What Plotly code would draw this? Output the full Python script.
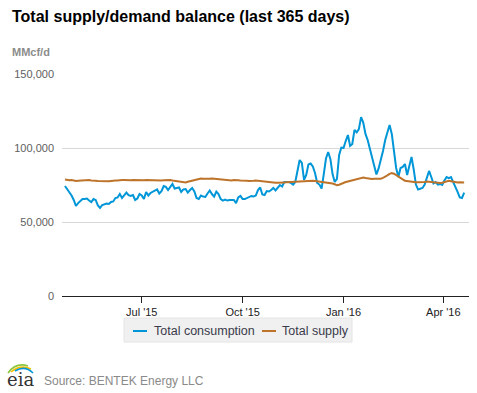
import pandas as pd
import plotly.graph_objects as go

# ---------------- data (MMcf/d, readings every 2 days) ----------------
start_date = "2015-04-22"
step = "2D"

consumption = [
    74300, 72300, 69600, 67900, 64900, 60800, 62800, 64200, 65500, 65500,
    65800, 64500, 63500, 65500, 64900, 61200, 59500, 61500, 62200, 62500,
    62200, 63500, 63900, 66200, 66600, 68900, 66200, 68200, 69900, 68200,
    67600, 68200, 64900, 65900, 68900, 67900, 65500, 70300, 67900, 69600,
    70300, 71300, 72000, 69300, 70900, 74300, 73700, 71600, 74000, 75700,
    72600, 73000, 73300, 70300, 72000, 72300, 69900, 71600, 73000, 70600,
    66200, 65500, 67900, 67200, 66900, 69300, 71300, 68900, 67200, 70600,
    68900, 65500, 64500, 65200, 64500, 64900, 64900, 64900, 62800, 66600,
    67600, 65500, 65500, 66200, 66600, 67600, 67200, 67900, 71600, 73300,
    68600, 68200, 70900, 70600, 71600, 73000, 71300, 73300, 75000, 74000,
    77000, 77000, 77000, 76400, 75300, 77000, 83800, 91900, 89900, 78400,
    81800, 88900, 89500, 87500, 83100, 76400, 75300, 72600, 82400, 92900,
    97300, 92600, 82400, 77000, 79100, 95300, 100300, 100000, 104700, 108800,
    101400, 102700, 112200, 110500, 112800, 120900, 117200, 109500, 105400, 99700,
    94600, 88200, 82100, 86200, 91900, 98000, 105400, 109800, 115500, 109500,
    95900, 86500, 80400, 86500, 87200, 89200, 81800, 88900, 93900, 85500,
    75300, 72000, 72300, 73000, 75300, 79400, 84500, 80400, 76000, 77000,
    75300, 75700, 75000, 78000, 80400, 79700, 80400, 77000, 73000, 70300,
    66600, 66200, 69900,
]

supply = [
    78700, 78400, 78200, 78400, 78000, 77700, 77900, 78000, 78200, 78000,
    78400, 78300, 78000, 78100, 77800, 77700, 77600, 77500, 77400, 77300,
    77500, 77700, 77600, 78000, 78100, 78400, 78300, 78400, 78200, 78000,
    78200, 78400, 78300, 78100, 77900, 78000, 78200, 78400, 78300, 78100,
    78000, 77800, 77700, 77900, 78000, 78200, 78400, 78300, 78400, 78100,
    77800, 77600, 77700, 77400, 77000, 76700, 77200, 77600, 78200, 78700,
    79100, 79300, 79400, 79200, 79100, 79200, 79300, 79400, 79200, 79000,
    78900, 78700, 78500, 78400, 78300, 78100, 78000, 78300, 78400, 78200,
    78000, 78100, 77800, 77900, 77700, 77600, 77800, 78000, 77800, 77700,
    77700, 77500, 77400, 77200, 77000, 76800, 76600, 76500, 76400, 76500,
    76700, 76800, 76900, 77000, 77200, 77100, 77300, 77400, 77600, 77700,
    77800, 78000, 77900, 77800, 77700, 77500, 77400, 77300, 77200, 77000,
    76800, 76500, 76000, 75500, 74800, 75200, 75900, 76500, 77000, 77400,
    77800, 78200, 78500, 78700, 79000, 79400, 80100, 79700, 79400, 79100,
    79000, 79200, 79100, 79000, 79300, 79800, 80400, 81500, 82500, 83000,
    82600, 81500, 80500, 79500, 78800, 77900, 77600, 77300, 77200, 77000,
    76900, 76800, 76700, 76600, 77000, 77400, 77200, 76800, 76500, 76700,
    76400, 76300, 76500, 77100, 77500, 77800, 77600, 77200, 76900, 76700,
    76800, 76600, 76700,
]

dates = pd.date_range(start_date, periods=len(consumption), freq=step)

tick_dates = ["2015-07-01", "2015-10-01", "2016-01-01", "2016-04-01"]
tick_labels = ["Jul '15", "Oct '15", "Jan '16", "Apr '16"]
y_ticks = [0, 50000, 100000, 150000]

series_names = ["Total consumption", "Total supply"]
series_colors = ["#0096d7", "#bd732a"]

# ---------------- layout helpers ----------------
W, H = 477, 393
L, R, T, B = 62, 8, 74, 97
PW, PH = W - L - R, H - T - B
FONT = "Arial, Liberation Sans, sans-serif"


def px(x):
    return (x - L) / PW


def py(y):
    return (H - B - y) / PH


fig = go.Figure()
for name, vals, col in zip(series_names, [consumption, supply], series_colors):
    fig.add_trace(go.Scatter(x=dates, y=vals, mode="lines", name=name,
                             line=dict(color=col, width=2), showlegend=False))

fig.update_layout(
    width=W, height=H,
    margin=dict(l=L, r=R, t=T, b=B, pad=0),
    paper_bgcolor="white", plot_bgcolor="white",
    font=dict(family=FONT, size=11, color="#333333"),
    xaxis=dict(
        type="date",
        range=["2015-04-19 07:00", "2016-04-24 10:00"],
        tickvals=tick_dates, ticktext=tick_labels,
        showgrid=False, zeroline=False,
        showline=True, linecolor="#222222", linewidth=1,
        ticks="outside", ticklen=6, tickcolor="#222222", tickwidth=1,
        tickfont=dict(size=11, color="#222222"),
    ),
    yaxis=dict(
        range=[0, 150000], tickvals=y_ticks, tickformat=",",
        showgrid=True, gridcolor="#d8d8d8", gridwidth=1,
        zeroline=False, showline=False, ticks="",
        ticklabelstandoff=7,
        tickfont=dict(size=11, color="#606060"),
    ),
)

ann = []
ann.append(dict(text="<b>Total supply/demand balance (last 365 days)</b>",
                x=px(10), y=py(16), xref="paper", yref="paper",
                xanchor="left", yanchor="middle", showarrow=False,
                font=dict(size=16, color="#000000", family=FONT)))
ann.append(dict(text="<b>MMcf/d</b>", x=px(10), y=py(52), xref="paper", yref="paper",
                xanchor="left", yanchor="middle", showarrow=False,
                font=dict(size=11, color="#8c8c8c", family=FONT)))

shapes = []
# legend box
shapes.append(dict(type="rect", xref="paper", yref="paper",
                   x0=px(124), x1=px(352), y0=py(318), y1=py(342),
                   fillcolor="#f0f0f0", line=dict(color="#e4e4e4", width=1), layer="below"))
legend_items = [(133, 152, series_names[0]), (262, 280, series_names[1])]
for (lx, tx, name), col in zip(legend_items, series_colors):
    shapes.append(dict(type="line", xref="paper", yref="paper",
                       x0=px(lx), x1=px(lx + 14), y0=py(331), y1=py(331),
                       line=dict(color=col, width=2)))
    ann.append(dict(text=name, x=px(tx), y=py(331), xref="paper", yref="paper",
                    xanchor="left", yanchor="middle", showarrow=False,
                    font=dict(size=12.5, color="#3a3a4a", family=FONT)))

# source + eia logo
ann.append(dict(text="Source: BENTEK Energy LLC", x=px(42), y=py(381),
                xref="paper", yref="paper", xanchor="left", yanchor="middle",
                showarrow=False, font=dict(size=12, color="#8a8a8a", family=FONT)))
ann.append(dict(text="eia", x=px(20), y=py(379), xref="paper", yref="paper",
                xanchor="center", yanchor="middle", showarrow=False,
                font=dict(size=18, color="#333333", family="DejaVu Serif, serif")))
arcs = [((8, 373), (16, 362), (28, 366), "#8dc63f"),
        ((11, 372), (20, 364), (31, 369), "#f4c000"),
        ((15, 371), (25, 365), (33, 373), "#0096d7")]
for (a, c, b, col) in arcs:
    path = (f"M {px(a[0])},{py(a[1])} Q {px(c[0])},{py(c[1])} {px(b[0])},{py(b[1])}")
    shapes.append(dict(type="path", xref="paper", yref="paper", path=path,
                       line=dict(color=col, width=1.6)))

fig.update_layout(annotations=ann, shapes=shapes)
fig.write_html("out.html", config={"displayModeBar": False},
               post_script="document.body.style.margin='0';document.body.style.overflow='hidden';")
